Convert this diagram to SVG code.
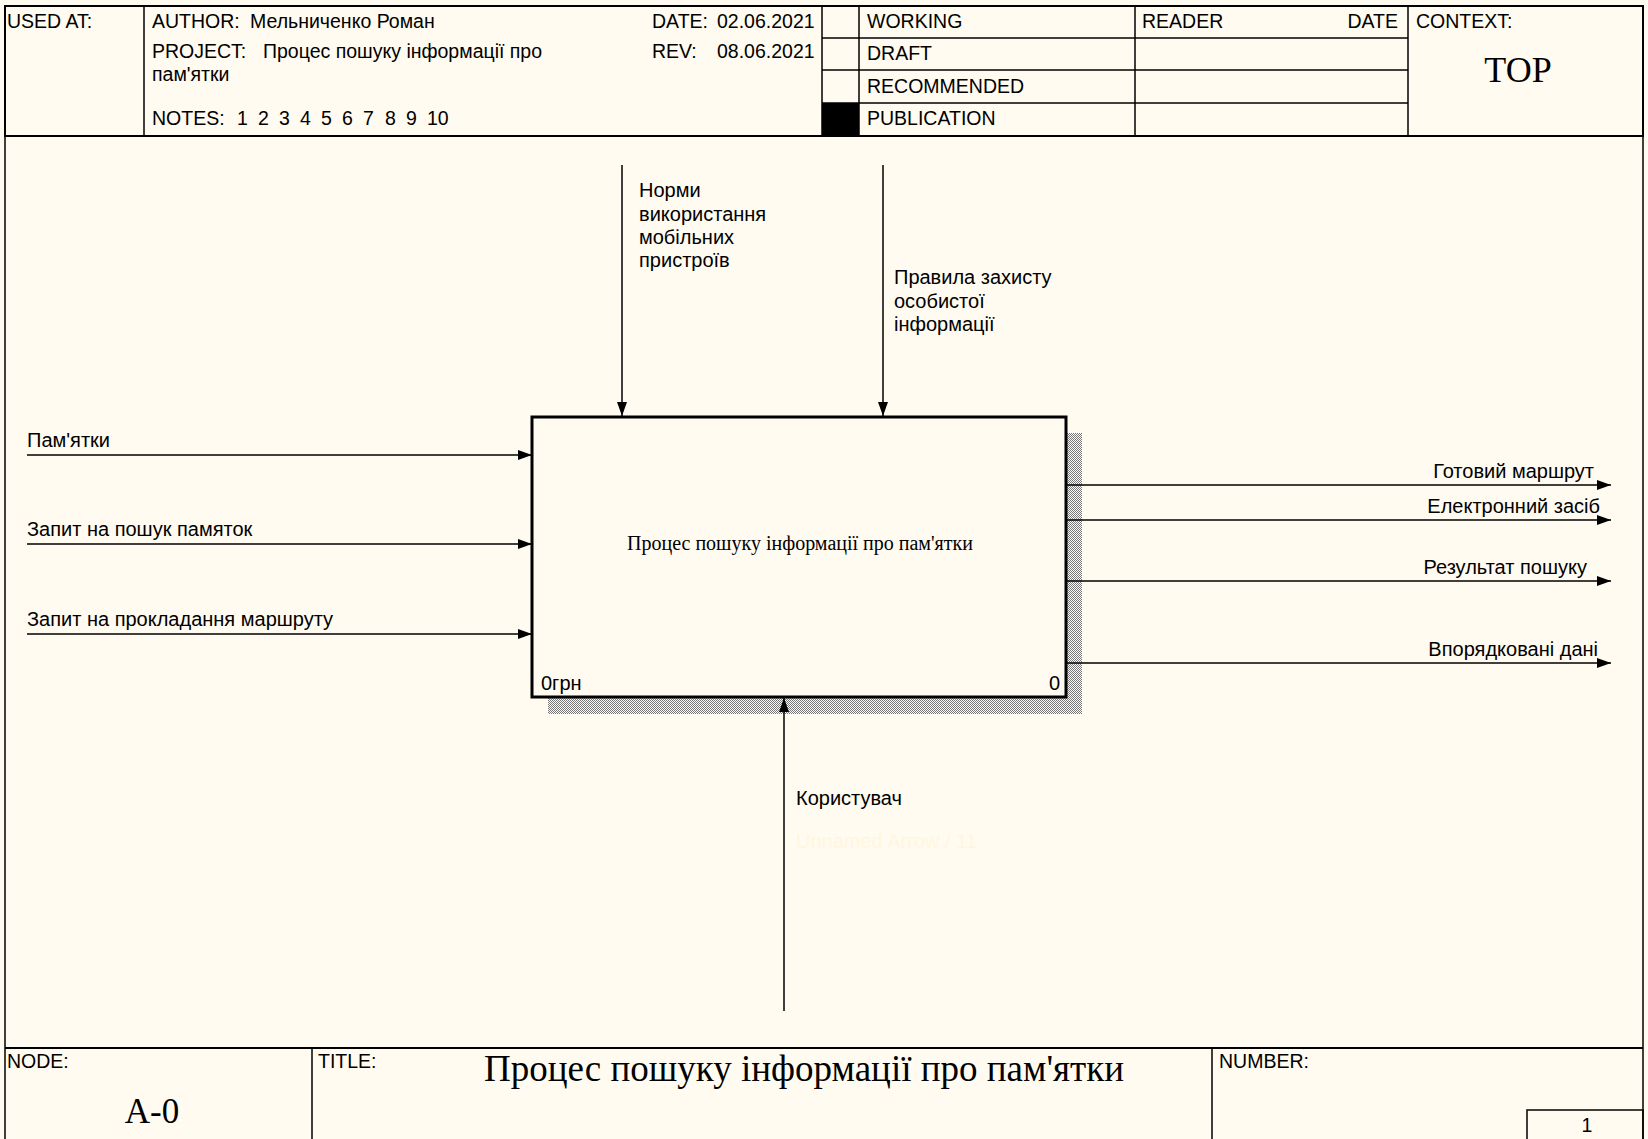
<svg xmlns="http://www.w3.org/2000/svg" width="1648" height="1139" viewBox="0 0 1648 1139">
<style>
.bg{fill:#fffbf0}
.ln{stroke:#000;stroke-width:1.5;fill:none}
.frame{stroke:#000;stroke-width:2;fill:none}
.t{font-family:"Liberation Sans",Arial,sans-serif;font-size:20px;fill:#000}
.h{font-family:"Liberation Sans",Arial,sans-serif;font-size:19.5px;fill:#000}
.s{font-family:"Liberation Serif","Times New Roman",serif;fill:#000}
.arr{stroke:#000;stroke-width:1.5;fill:none;marker-end:url(#ah)}
</style>
<defs>
<marker id="ah" viewBox="0 0 14 10" refX="14" refY="5" markerWidth="14" markerHeight="10" markerUnits="userSpaceOnUse" orient="auto">
<path d="M0,0 L14,5 L0,10 Z" fill="#000"/>
</marker>
<pattern id="hatch" width="2" height="2" patternUnits="userSpaceOnUse">
<rect width="2" height="2" fill="#fffbf0"/>
<rect width="1" height="1" fill="#777"/>
<rect x="1" y="1" width="1" height="1" fill="#777"/>
</pattern>
</defs>
<rect class="bg" x="0" y="0" width="1648" height="1139"/>

<g id="header">
<rect class="frame" x="5" y="6" width="1638" height="130"/>
<line class="ln" x1="144" y1="6" x2="144" y2="136"/>
<line class="ln" x1="822" y1="6" x2="822" y2="136"/>
<line class="ln" x1="859" y1="6" x2="859" y2="136"/>
<line class="ln" x1="1135" y1="6" x2="1135" y2="136"/>
<line class="ln" x1="1408" y1="6" x2="1408" y2="136"/>
<line class="ln" x1="822" y1="38" x2="1408" y2="38"/>
<line class="ln" x1="822" y1="70" x2="1408" y2="70"/>
<line class="ln" x1="822" y1="103" x2="1408" y2="103"/>
<rect x="822" y="103" width="37" height="33" fill="#000"/>
<text class="h" x="7" y="28">USED AT:</text>
<text class="h" x="152" y="28">AUTHOR:</text>
<text class="h" x="250" y="28">Мельниченко Роман</text>
<text class="h" x="152" y="58">PROJECT:</text>
<text class="h" x="263" y="58">Процес пошуку інформації про</text>
<text class="h" x="152" y="81">пам'ятки</text>
<text class="h" x="152" y="125">NOTES:<tspan x="237">1</tspan><tspan x="258">2</tspan><tspan x="279">3</tspan><tspan x="300">4</tspan><tspan x="321">5</tspan><tspan x="342">6</tspan><tspan x="363">7</tspan><tspan x="385">8</tspan><tspan x="406">9</tspan><tspan x="427">10</tspan></text>
<text class="h" x="652" y="28">DATE:</text>
<text class="h" x="717" y="28">02.06.2021</text>
<text class="h" x="652" y="58">REV:</text>
<text class="h" x="717" y="58">08.06.2021</text>
<text class="h" x="867" y="28">WORKING</text>
<text class="h" x="867" y="60">DRAFT</text>
<text class="h" x="867" y="93">RECOMMENDED</text>
<text class="h" x="867" y="125">PUBLICATION</text>
<text class="h" x="1142" y="28">READER</text>
<text class="h" x="1398" y="28" text-anchor="end">DATE</text>
<text class="h" x="1416" y="28">CONTEXT:</text>
<text class="s" x="1518" y="82" font-size="36" text-anchor="middle">TOP</text>
</g>

<g id="frame">
<line class="ln" x1="5" y1="136" x2="5" y2="1139"/>
<line class="ln" x1="1643" y1="136" x2="1643" y2="1139"/>
</g>

<g id="footer">
<line class="frame" x1="5" y1="1048" x2="1643" y2="1048"/>
<line class="ln" x1="312" y1="1048" x2="312" y2="1139"/>
<line class="ln" x1="1212" y1="1048" x2="1212" y2="1139"/>
<rect class="ln" x="1527" y="1110" width="116" height="30"/>
<text class="h" x="7" y="1068">NODE:</text>
<text class="h" x="318" y="1068">TITLE:</text>
<text class="h" x="1219" y="1068">NUMBER:</text>
<text class="s" x="152" y="1123" font-size="35" text-anchor="middle">A-0</text>
<text class="s" x="804" y="1081" font-size="37" text-anchor="middle">Процес пошуку інформації про пам'ятки</text>
<text class="h" x="1587" y="1132" text-anchor="middle">1</text>
</g>

<g id="node-A0">
<rect x="548" y="697" width="534" height="17" fill="url(#hatch)"/>
<rect x="1066" y="433" width="16" height="281" fill="url(#hatch)"/>
<rect x="532" y="417" width="534" height="280" fill="#fffbf0" stroke="#000" stroke-width="3"/>
<text class="s" x="800" y="550" font-size="20" text-anchor="middle">Процес пошуку інформації про пам'ятки</text>
<text class="t" x="541" y="690">0грн</text>
<text class="t" x="1060" y="690" text-anchor="end">0</text>
</g>

<g id="connectors">
<line class="arr" x1="27" y1="455" x2="532" y2="455"/>
<line class="arr" x1="27" y1="544" x2="532" y2="544"/>
<line class="arr" x1="27" y1="634" x2="532" y2="634"/>
<line class="arr" x1="622" y1="165" x2="622" y2="416"/>
<line class="arr" x1="883" y1="165" x2="883" y2="416"/>
<line class="arr" x1="1066" y1="485" x2="1611" y2="485"/>
<line class="arr" x1="1066" y1="520" x2="1611" y2="520"/>
<line class="arr" x1="1066" y1="581" x2="1611" y2="581"/>
<line class="arr" x1="1066" y1="663" x2="1611" y2="663"/>
<line class="arr" x1="784" y1="1011" x2="784" y2="698"/>
<text class="t" x="27" y="447">Пам'ятки</text>
<text class="t" x="27" y="536">Запит на пошук памяток</text>
<text class="t" x="27" y="626">Запит на прокладання маршруту</text>
<text class="t" x="639" y="197">Норми<tspan x="639" y="221">використання</tspan><tspan x="639" y="244">мобільних</tspan><tspan x="639" y="267">пристроїв</tspan></text>
<text class="t" x="894" y="284">Правила захисту<tspan x="894" y="308">особистої</tspan><tspan x="894" y="331">інформації</tspan></text>
<text class="t" x="1594" y="478" text-anchor="end">Готовий маршрут</text>
<text class="t" x="1600" y="513" text-anchor="end">Електронний засіб</text>
<text class="t" x="1587" y="574" text-anchor="end">Результат пошуку</text>
<text class="t" x="1598" y="656" text-anchor="end">Впорядковані дані</text>
<text class="t" x="796" y="805">Користувач</text>
<text class="t" x="796" y="848" style="fill:#fff6df">Unnamed Arrow / 11</text>
</g>
</svg>
